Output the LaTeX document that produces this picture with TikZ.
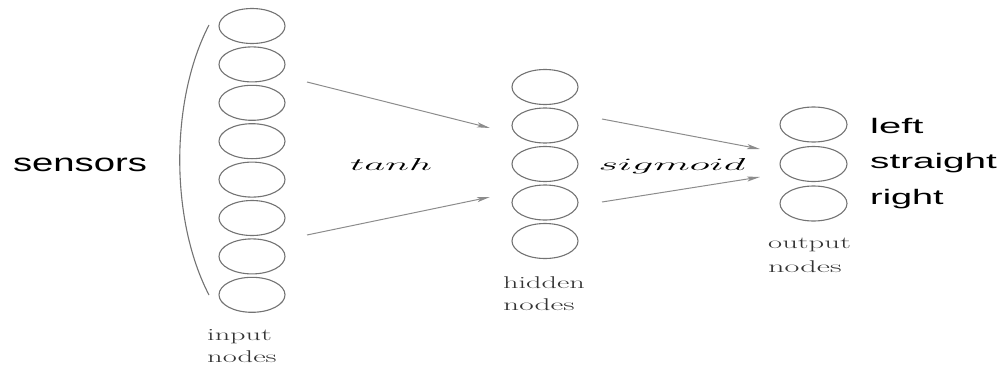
\documentclass[tikz,border=0pt]{standalone}
\usepackage{fontspec}
\usepackage{graphicx}
\newfontfamily\labelsans{Liberation Sans}
\usetikzlibrary{shapes.geometric,arrows.meta}
\begin{document}
\begin{tikzpicture}[x=1pt,y=-1pt,
  unit/.style={ellipse,draw=black!55,line width=1.1pt,minimum width=66pt,minimum height=35pt,inner sep=0pt},
  conn/.style={draw=black!45,line width=1pt,-{Stealth[length=13pt,width=5pt,inset=3pt]}},
  bigsans/.style={inner sep=0pt,font=\labelsans\fontsize{21}{21}\selectfont,text=black},
  serifnote/.style={inner sep=0pt,anchor=base west,text=black!80,font=\fontsize{17}{17}\selectfont},
  mathnote/.style={inner sep=0pt,anchor=base,text=black,font=\fontsize{16}{16}\selectfont}]
\useasboundingbox (0,0) rectangle (1000,364);
% input layer
\foreach \k in {0,...,7}{
  \node[unit] (in\k) at (252,{26+38.4*\k}) {};
}
% hidden layer
\foreach \k in {0,...,4}{
  \node[unit] (hid\k) at (545,{87+38.5*\k}) {};
}
% output layer
\foreach \k in {0,...,2}{
  \node[unit,minimum width=67pt] (out\k) at (813.5,{124.5+39.5*\k}) {};
}
% bracket
\coordinate (brtop) at (209,25);
\coordinate (brbot) at (209,295);
\draw[black!55,line width=1.1pt] (brtop) .. controls (170,100) and (170,220) .. (brbot);
% sensors label
\node[bigsans,font=\labelsans\fontsize{25}{25}\selectfont] (sens) at (80,165) {\scalebox{1.53}[1]{sensors}};
% arrows
\coordinate (a1s) at (307,82);  \coordinate (a1e) at (490,128);
\coordinate (a2s) at (307,235); \coordinate (a2e) at (490,197);
\coordinate (b1s) at (602,119); \coordinate (b1e) at (760,149);
\coordinate (b2s) at (602,202); \coordinate (b2e) at (760,177);
\draw[conn] (a1s) -- (a1e);
\draw[conn] (a2s) -- (a2e);
\draw[conn] (b1s) -- (b1e);
\draw[conn] (b2s) -- (b2e);
% function labels
\node[mathnote] (tanhlab) at (391,170) {\scalebox{2.35}[1]{$tanh$}};
\node[mathnote] (siglab) at (672,170) {\scalebox{2.45}[1]{$sigmoid$}};
% layer labels
\node[serifnote] (inl1) at (207,340) {\scalebox{1.78}[1]{input}};
\node[serifnote] (inl2) at (207,362) {\scalebox{1.8}[1]{nodes}};
\node[serifnote] (hl1) at (503,288) {\scalebox{1.78}[1]{hidden}};
\node[serifnote] (hl2) at (503,310) {\scalebox{1.85}[1]{nodes}};
\node[serifnote] (ol1) at (768,248) {\scalebox{1.8}[1]{output}};
\node[serifnote] (ol2) at (768,272) {\scalebox{1.9}[1]{nodes}};
% output names
\node[bigsans,anchor=base west] (lleft) at (870,133) {\scalebox{1.9}[1]{left}};
\node[bigsans,anchor=base west] (lstr) at (870,168) {\scalebox{1.84}[1]{straight}};
\node[bigsans,anchor=base west] (lright) at (870,204) {\scalebox{1.8}[1]{right}};
\end{tikzpicture}
\end{document}
